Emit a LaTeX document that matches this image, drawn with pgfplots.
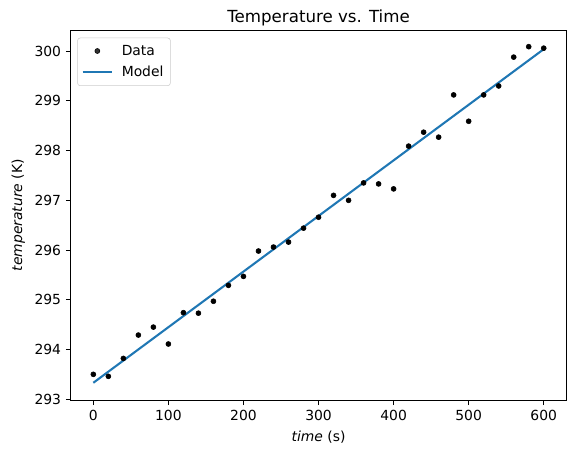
\documentclass[border=0pt]{standalone}
\usepackage{fontspec}
\setmainfont{DejaVu Sans}
\usepackage{pgfplots}
\pgfplotsset{compat=1.18}
\definecolor{tabblue}{HTML}{1F77B4}
\begin{document}
\begin{tikzpicture}
\begin{axis}[
  at={(0,0)}, anchor=south west,
  scale only axis,
  width=356.8pt, height=266.4pt,
  xmin=-30, xmax=630, ymin=292.98, ymax=300.42,
  xtick={0,100,...,600}, ytick={293,294,...,300},
  tick align=outside, tick pos=left,
  major tick length=3.5pt,
  every tick/.style={black, line width=0.6pt},
  axis line style={line width=0.6pt},
  /pgf/number format/assume math mode=true,
  /pgf/number format/1000 sep={},
  tick label style={font=\fontsize{10}{12}\selectfont},
  title={Temperature vs. Time},
  every axis title shift=0pt,
  title style={font=\fontsize{12}{14}\selectfont, at={(0.5,1)}, anchor=base, yshift=5.5pt},
  xlabel={\textit{time} (s)},
  ylabel={\textit{temperature} (K)},
  label style={font=\fontsize{10}{12}\selectfont},
  xlabel style={yshift=-1pt},
  legend style={at={(0.013,0.980)}, anchor=north west, draw=black!20, rounded corners=2pt,
    fill=white, fill opacity=0.8, text opacity=1, font=\fontsize{10}{12}\selectfont,
    inner xsep=3pt, inner ysep=3pt, row sep=2.5pt},
  legend cell align=left,
]
\addplot[only marks, mark=*, mark size=1.8pt, black,
  legend image code/.code={\draw[mark repeat=2,mark phase=2] plot coordinates {(0cm,0cm) (0.37cm,0cm) (0.74cm,0cm)}; \path (0cm,0cm) (0.74cm+4.3pt,0cm);}] coordinates {
(0,293.50) (20,293.46) (40,293.82) (60,294.29) (80,294.45) (100,294.11)
(120,294.74) (140,294.73) (160,294.97) (180,295.29) (200,295.47) (220,295.98)
(240,296.06) (260,296.16) (280,296.44) (300,296.66) (320,297.10) (340,297.00)
(360,297.35) (380,297.33) (400,297.23) (420,298.09) (440,298.37) (460,298.27)
(480,299.12) (500,298.59) (520,299.12) (540,299.30) (560,299.88) (580,300.09)
(600,300.06)
};
\addlegendentry{Data}
\addplot[tabblue, line width=1.5pt, no marks,
  legend image code/.code={\draw (0cm,0cm) -- (0.74cm,0cm); \path (0cm,0cm) (0.74cm+4.3pt,0cm);}] coordinates {(0,293.33) (600,300.04)};
\addlegendentry{Model}
\end{axis}
\pgfresetboundingbox
\useasboundingbox (-51pt,-39.4pt) rectangle (363.1pt,288.2pt);
\end{tikzpicture}
\end{document}
